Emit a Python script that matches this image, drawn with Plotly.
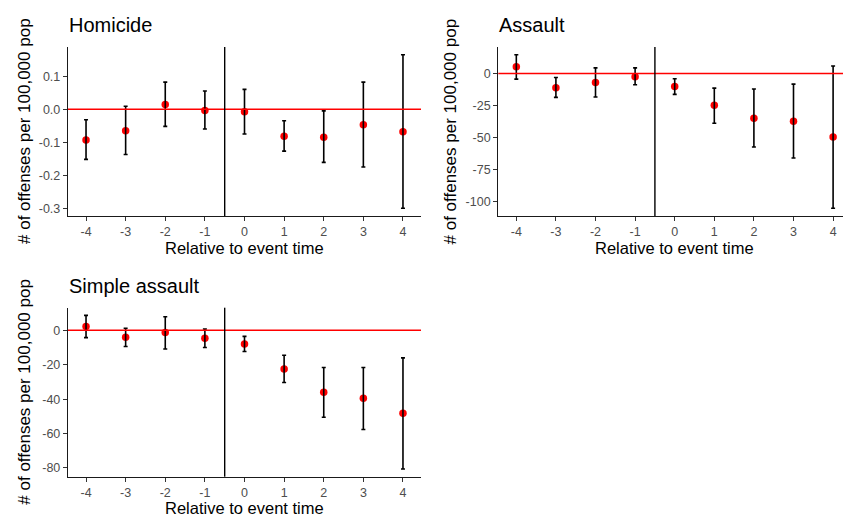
import plotly.graph_objects as go

rel_time = [-4, -3, -2, -1, 0, 1, 2, 3, 4]
x_tick_labels = ["-4", "-3", "-2", "-1", "0", "1", "2", "3", "4"]

homicide_est = [-0.093, -0.065, 0.014, -0.004, -0.008, -0.082, -0.085, -0.047, -0.068]
homicide_lo = [-0.152, -0.137, -0.052, -0.060, -0.075, -0.127, -0.161, -0.175, -0.300]
homicide_hi = [-0.032, 0.009, 0.082, 0.055, 0.060, -0.035, -0.005, 0.082, 0.165]
homicide_ticks = [-0.3, -0.2, -0.1, 0.0, 0.1]
homicide_tick_labels = ["-0.3", "-0.2", "-0.1", "0.0", "0.1"]

assault_est = [5.2, -11.1, -7.0, -2.6, -10.1, -24.8, -34.9, -37.2, -49.6]
assault_lo = [-4.4, -18.6, -18.3, -8.8, -16.3, -38.8, -57.4, -65.9, -105.2]
assault_hi = [14.7, -3.1, 4.4, 4.4, -4.1, -11.4, -12.1, -8.3, 5.9]
assault_ticks = [-100, -75, -50, -25, 0]
assault_tick_labels = ["-100", "-75", "-50", "-25", "0"]

simple_est = [2.3, -4.0, -1.3, -4.6, -7.9, -22.4, -36.0, -39.5, -48.2]
simple_lo = [-4.2, -9.4, -10.8, -10.0, -12.3, -30.3, -50.5, -57.6, -80.6]
simple_hi = [8.7, 1.2, 7.9, 0.8, -3.5, -14.5, -21.6, -21.6, -16.0]
simple_ticks = [-80, -60, -40, -20, 0]
simple_tick_labels = ["-80", "-60", "-40", "-20", "0"]

panel_titles = ["Homicide", "Assault", "Simple assault"]
x_title = "Relative to event time"
y_title = "# of offenses per 100,000 pop"

W, H = 843, 518
FONT = "Liberation Sans, Arial, sans-serif"

panels = [
    dict(est=homicide_est, lo=homicide_lo, hi=homicide_hi, ticks=homicide_ticks,
         labels=homicide_tick_labels, px=(68, 421), py=(47, 216), xr=[-4.455, 4.455],
         ytx=24.5, xty=248),
    dict(est=assault_est, lo=assault_lo, hi=assault_hi, ticks=assault_ticks,
         labels=assault_tick_labels, px=(498.3, 843), py=(47, 216), xr=[-4.455, 4.25],
         ytx=450, xty=248),
    dict(est=simple_est, lo=simple_lo, hi=simple_hi, ticks=simple_ticks,
         labels=simple_tick_labels, px=(68, 421), py=(307.7, 476.7), xr=[-4.455, 4.455],
         ytx=24.5, xty=507.5),
]

fig = go.Figure()
layout = dict(
    width=W, height=H, margin=dict(l=0, r=0, t=0, b=0),
    paper_bgcolor="white", plot_bgcolor="white", showlegend=False,
    font=dict(family=FONT, color="black"),
    annotations=[], shapes=[],
)

for i, p in enumerate(panels):
    n = "" if i == 0 else str(i + 1)
    xa, ya = "x" + n, "y" + n
    lo_all = min(p["lo"])
    hi_all = max(p["hi"])
    pad = (hi_all - lo_all) * 0.05
    yr = [lo_all - pad, hi_all + pad]
    x0, x1 = p["px"][0] / W, p["px"][1] / W
    y0, y1 = 1 - p["py"][1] / H, 1 - p["py"][0] / H
    axis_common = dict(showgrid=False, zeroline=False, showline=True, linecolor="#1a1a1a",
                       linewidth=1.4, ticks="outside", ticklen=4, tickwidth=1.1,
                       tickcolor="#333333", tickfont=dict(size=12.5, color="#4d4d4d", family=FONT))
    layout["xaxis" + n] = dict(domain=[x0, x1], anchor=ya, range=p["xr"],
                               tickvals=rel_time, ticktext=x_tick_labels, **axis_common)
    layout["yaxis" + n] = dict(domain=[y0, y1], anchor=xa, range=yr,
                               tickvals=p["ticks"], ticktext=p["labels"], **axis_common)

    # reference lines
    layout["shapes"].append(dict(type="line", xref=xa + " domain", yref=ya, x0=0, x1=1,
                                 y0=0, y1=0, line=dict(color="red", width=1.5), layer="above"))
    layout["shapes"].append(dict(type="line", xref=xa, yref=ya + " domain", x0=-0.5, x1=-0.5,
                                 y0=0, y1=1, line=dict(color="black", width=1.4), layer="above"))

    fig.add_trace(go.Scatter(x=rel_time, y=p["est"], mode="markers", xaxis=xa, yaxis=ya,
                             marker=dict(color="red", size=7.5), cliponaxis=False))
    fig.add_trace(go.Scatter(x=rel_time, y=p["est"], mode="markers", xaxis=xa, yaxis=ya,
                             marker=dict(color="rgba(0,0,0,0)", size=1),
                             error_y=dict(type="data", symmetric=False,
                                          array=[h - e for h, e in zip(p["hi"], p["est"])],
                                          arrayminus=[e - l for l, e in zip(p["lo"], p["est"])],
                                          color="black", thickness=1.6, width=2)))

    # titles
    full_right = p["px"][0] + 353
    cx = (p["px"][0] + full_right) / 2
    cy = (p["py"][0] + p["py"][1]) / 2
    layout["annotations"].append(dict(text=panel_titles[i], xref="paper", yref="paper",
                                      x=(p["px"][0] - 1) / W, y=1 - (p["py"][0] - 22) / H,
                                      xanchor="left", yanchor="middle", showarrow=False,
                                      font=dict(size=20, color="black", family=FONT)))
    layout["annotations"].append(dict(text=x_title, xref="paper", yref="paper",
                                      x=cx / W, y=1 - p["xty"] / H, xanchor="center",
                                      yanchor="middle", showarrow=False,
                                      font=dict(size=16.5, color="black", family=FONT)))
    layout["annotations"].append(dict(text=y_title, xref="paper", yref="paper",
                                      x=p["ytx"] / W, y=1 - cy / H, textangle=-90,
                                      xanchor="center", yanchor="middle", showarrow=False,
                                      font=dict(size=17, color="black", family=FONT)))

fig.update_layout(**layout)
fig.write_html("out.html")
